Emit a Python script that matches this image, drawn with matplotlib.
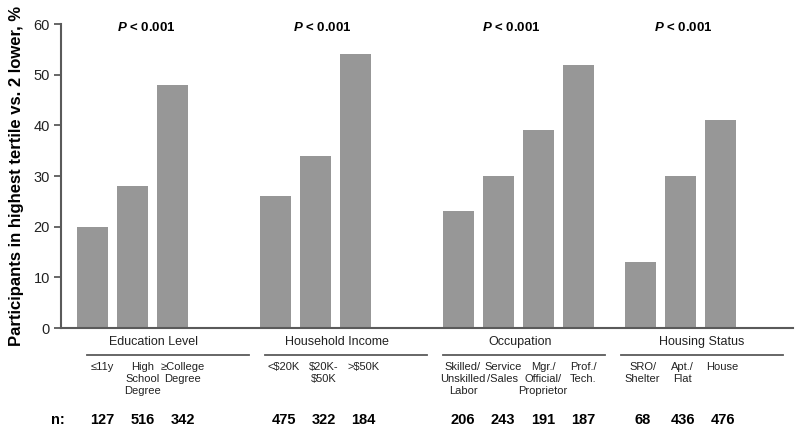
import numpy as np
import matplotlib
matplotlib.use("Agg")
import matplotlib.pyplot as plt

plt.rcParams['font.family'] = ['Liberation Sans', 'DejaVu Sans']
plt.rcParams['mathtext.fontset'] = 'custom'
plt.rcParams['mathtext.bfit'] = 'Liberation Sans:italic:bold'
plt.rcParams['mathtext.rm'] = 'Liberation Sans'

# data
groups = ['Education Level', 'Household Income', 'Occupation', 'Housing Status']
categories = [
    ['\u226411y', 'High\nSchool\nDegree', '\u2265College\nDegree'],
    ['<$20K', '$20K-\n$50K', '>$50K'],
    ['Skilled/\nUnskilled\nLabor', 'Service\n/Sales', 'Mgr./\nOfficial/\nProprietor', 'Prof./\nTech.'],
    ['SRO/\nShelter', 'Apt./\nFlat', 'House'],
]
values = [
    [20, 28, 48],
    [26, 34, 54],
    [23, 30, 39, 52],
    [13, 30, 41],
]
counts = [
    [127, 516, 342],
    [475, 322, 184],
    [206, 243, 191, 187],
    [68, 436, 476],
]
p_text = r'$\mathbfit{P}$ < 0.001'

# layout
group_start = [0, 4.575, 9.15, 13.7]
p_off = [0.34, 0.16, -0.17, 0.06]
lbl_off = [0.25, 0.2, 0.11, 0.05]
bar_w = 0.78
bar_color = '#979797'
axis_color = '#5a5a5a'

fig = plt.figure(figsize=(8, 4.33), dpi=100)
ax = fig.add_axes([61 / 800, 1 - 328 / 433, (793 - 61) / 800, (328 - 24) / 433])

for g, name in enumerate(groups):
    xs = group_start[g] + np.arange(len(values[g]))
    ax.bar(xs, values[g], width=bar_w, color=bar_color, edgecolor='none')
    # p value
    ax.text(xs.mean() + p_off[g], 59.3, p_text, ha='center', va='center',
            fontsize=9.5, fontweight='bold', clip_on=False)
    # underline and group label
    x0 = -0.1375 + 4.45 * g
    x1 = x0 + 4.05
    ax.plot([x0, x1], [-5.3, -5.3], color=axis_color, lw=1.3, clip_on=False)
    ax.text(xs[0] + 1.53, -2.75, name, ha='center', va='center',
            fontsize=9, color='#222222', clip_on=False)
    for x, cat, n in zip(xs, categories[g], counts[g]):
        ax.text(x + lbl_off[g], -6.7, cat, ha='center', va='top', fontsize=8,
                color='#222222', linespacing=1.25, clip_on=False)
        ax.text(x + lbl_off[g], -18.2, str(n), ha='center', va='center',
                fontsize=10.5, fontweight='bold', clip_on=False)

ax.text(-0.87, -18.2, 'n:', ha='center', va='center', fontsize=10.5,
        fontweight='bold', clip_on=False)

ax.set_xlim(-0.7875, 17.51)
ax.set_ylim(0, 60)
ax.set_yticks(np.arange(0, 61, 10))
ax.set_xticks([])
ax.tick_params(axis='y', direction='out', length=5, width=1.3, color=axis_color,
               labelsize=10.5, pad=3, labelcolor='#222222')
for s in ['top', 'right']:
    ax.spines[s].set_visible(False)
for s in ['left', 'bottom']:
    ax.spines[s].set_color(axis_color)
    ax.spines[s].set_linewidth(1.5)

ax.set_ylabel('Participants in highest tertile vs. 2 lower, %', fontsize=12,
              fontweight='bold', labelpad=7)

fig.savefig('out.png', dpi=100)
